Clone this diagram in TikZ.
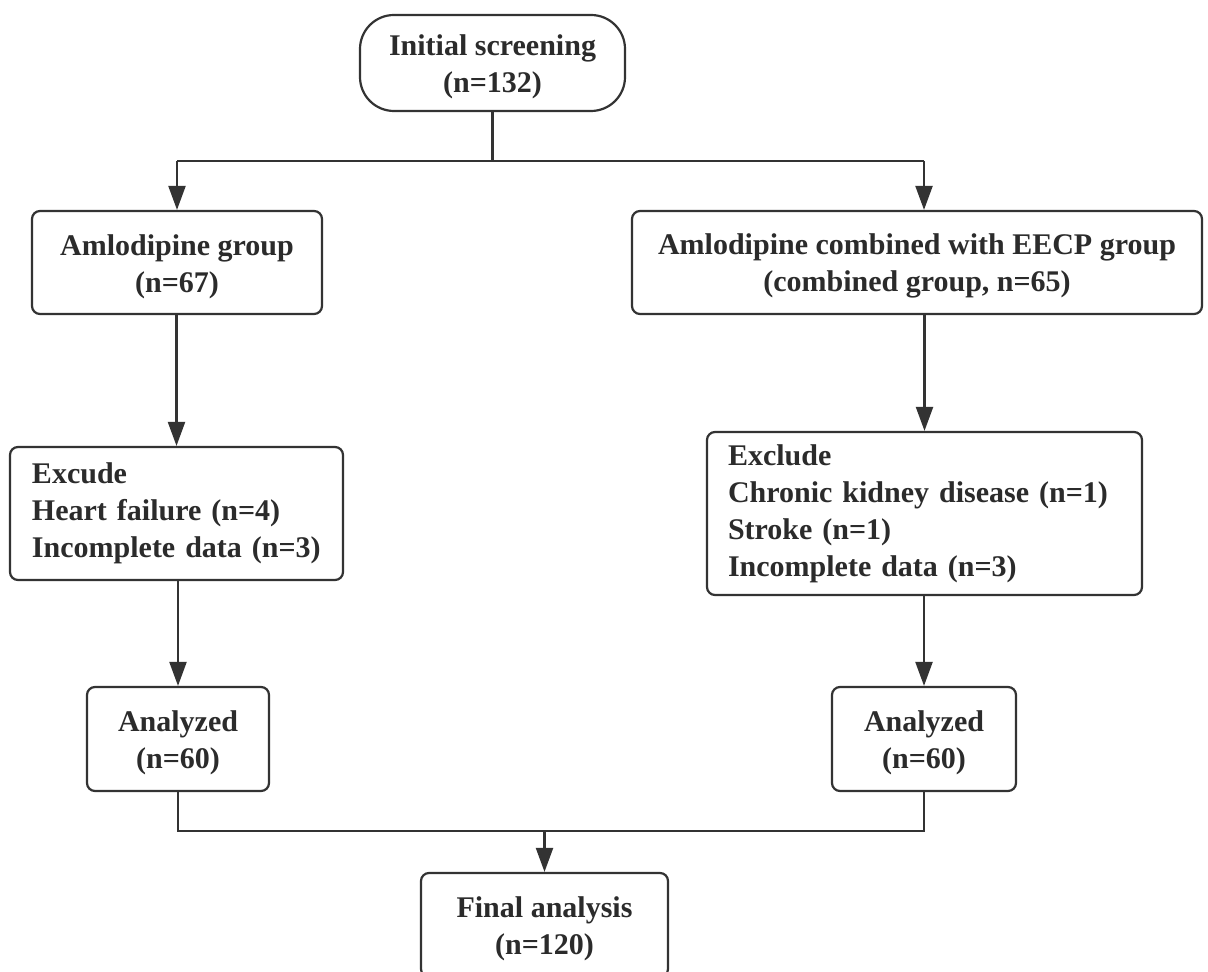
\documentclass[tikz,border=0pt]{standalone}
\usepackage{fontspec}
\setmainfont{Liberation Serif}
\usetikzlibrary{arrows.meta}
\definecolor{ink}{HTML}{333333}
\definecolor{txt}{HTML}{2B2B2B}
\newcommand\tstrut{\rule{0pt}{14.2pt}}
\tikzset{
  box/.style={draw=ink, line width=1.1pt, rounded corners=4pt, inner sep=0pt,
    align=center, text=txt, font=\fontsize{15}{18.5}\selectfont\bfseries},
  leftbox/.style={box, align=left, inner ysep=0pt},
  link/.style={draw=ink, line width=1.1pt},
  arr/.style={link, -{Triangle[length=12pt,width=8.5pt]}}
}
\begin{document}
\begin{tikzpicture}[x=0.5pt,y=-0.5pt]
\useasboundingbox (0,0) rectangle (1208,972);
\clip (0,0) rectangle (1208,972);
\fill[white] (0,0) rectangle (1208,972);

\node[box, rounded corners=17pt, minimum width=132.5pt, minimum height=48pt] (init) at (492.5,63) {\tstrut Initial screening\\(n=132)};

\node[box, minimum width=145pt, minimum height=51.5pt] (g1) at (177,262.5) {\tstrut Amlodipine group\\(n=67)};
\node[box, minimum width=285pt, minimum height=51.5pt] (g2) at (917,262.5) {\tstrut Amlodipine combined with EECP group\\(combined group, n=65)};

\node[leftbox, text width=144.5pt, inner xsep=11pt, minimum height=66.5pt] (ex1) at (176.5,513.5) {Excude\\Heart failure (n=4)\\Incomplete data (n=3)};
\node[leftbox, text width=196.5pt, inner xsep=10.5pt, minimum height=81.5pt] (ex2) at (924.5,513.5) {Exclude\\Chronic kidney disease (n=1)\\Stroke (n=1)\\Incomplete data (n=3)};

\node[box, minimum width=91pt, minimum height=52pt] (an1) at (178,739) {\tstrut Analyzed\\(n=60)};
\node[box, minimum width=92pt, minimum height=52pt] (an2) at (924,739) {\tstrut Analyzed\\(n=60)};

\node[box, minimum width=123.5pt, minimum height=52pt] (fin) at (544.5,925) {\tstrut Final analysis\\(n=120)};

% top split
\coordinate (jL) at (177,161);
\coordinate (jR) at (924,161);
\draw[link] (init.south) -- (init.south |- jL);
\draw[link] (jL) -- (jR);
\draw[arr] (jL) -- (g1.north);
\draw[arr] (jR) -- (jR |- g2.north);

% group to exclude
\draw[arr] (g1.south -| ex1.north) -- (ex1.north);
\draw[arr] (g2.south -| ex2.north) -- (ex2.north);

% exclude to analyzed
\draw[arr] (ex1.south -| an1.north) -- (an1.north);
\draw[arr] (ex2.south -| an2.north) -- (an2.north);

% merge
\coordinate (mL) at (178,831);
\coordinate (mR) at (924,831);
\coordinate (mC) at (544.5,831);
\draw[link] (an1.south) -- (mL) -- (mR) -- (an2.south);
\draw[arr] (mC) -- (fin.north);
\end{tikzpicture}
\end{document}
